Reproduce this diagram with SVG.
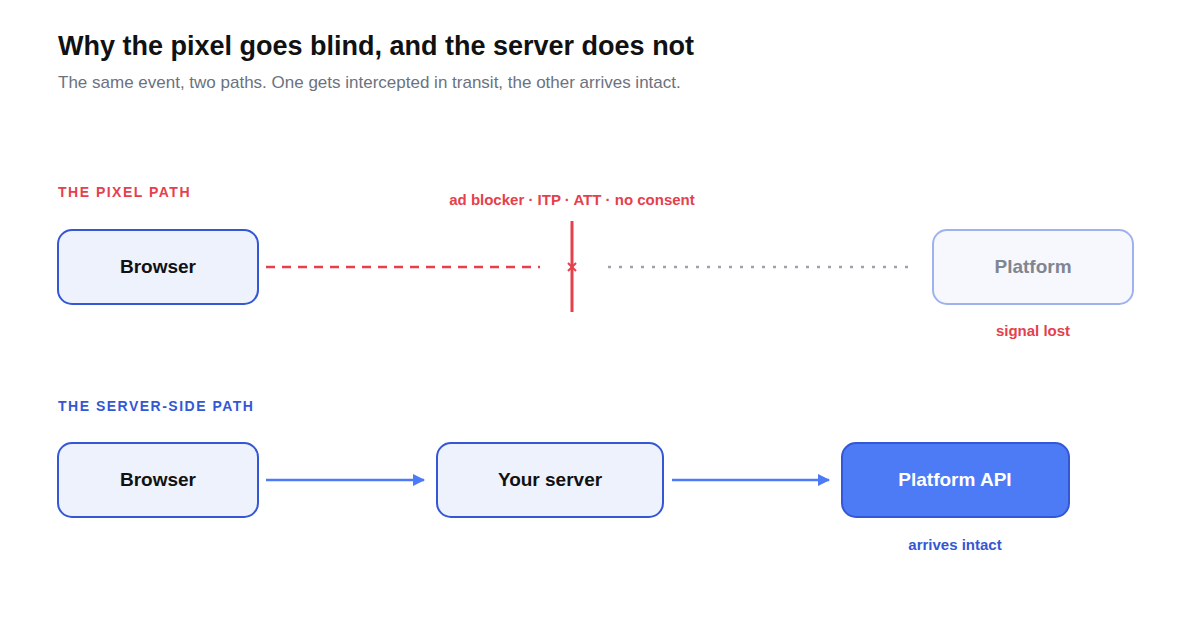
<svg xmlns="http://www.w3.org/2000/svg" width="1200" height="627" viewBox="0 0 1200 627">
<defs>
<style>
text{font-family:"Liberation Sans",Arial,sans-serif}
.node{fill:#eef2fd;stroke:#3457d5;stroke-width:2}
.lbl{font-size:19px;font-weight:bold;fill:#111;text-anchor:middle}
.sec{font-size:14px;font-weight:bold;letter-spacing:1.5px}
.note{font-size:15px;font-weight:bold;text-anchor:middle}
</style>
<marker id="arr" markerWidth="12" markerHeight="12" refX="11" refY="6" orient="auto" markerUnits="userSpaceOnUse" viewBox="0 0 12 12"><path d="M0,0 L12,6 L0,12 Z" fill="#4d7bf5"/></marker>
</defs>
<rect width="1200" height="627" fill="#fff"/>
<text x="58" y="55" font-size="27" font-weight="bold" fill="#111">Why the pixel goes blind, and the server does not</text>
<text x="58" y="88" font-size="17" fill="#6b7280">The same event, two paths. One gets intercepted in transit, the other arrives intact.</text>
<text class="sec" x="58" y="197" fill="#e5404c">THE PIXEL PATH</text>
<text class="sec" x="58" y="411" fill="#3457d5">THE SERVER-SIDE PATH</text>
<text class="note" x="572" y="205" fill="#e5404c">ad blocker · ITP · ATT · no consent</text>
<g id="connectors">
<line x1="266" y1="267" x2="540" y2="267" stroke="#e5404c" stroke-width="2.5" stroke-dasharray="9,7"/>
<line x1="608" y1="267" x2="912" y2="267" stroke="#9ca3af" stroke-width="2.5" stroke-dasharray="3,8"/>
<line x1="572" y1="221" x2="572" y2="312" stroke="#e5404c" stroke-width="3"/>
<path d="M568,263 L576,271 M576,263 L568,271" stroke="#e5404c" stroke-width="2"/>
<line x1="266" y1="480" x2="424" y2="480" stroke="#4d7bf5" stroke-width="2.5" marker-end="url(#arr)"/>
<line x1="672" y1="480" x2="829" y2="480" stroke="#4d7bf5" stroke-width="2.5" marker-end="url(#arr)"/>
</g>
<g id="pixel-browser"><rect class="node" x="58" y="230" width="200" height="74" rx="14"/><text class="lbl" x="158" y="273">Browser</text></g>
<g id="pixel-platform"><rect x="933" y="230" width="200" height="74" rx="14" fill="#f6f8fe" stroke="#9fb2ee" stroke-width="2"/><text class="lbl" x="1033" y="273" fill="#808590" style="fill:#808590">Platform</text><text class="note" x="1033" y="336" fill="#e5404c">signal lost</text></g>
<g id="server-browser"><rect class="node" x="58" y="443" width="200" height="74" rx="14"/><text class="lbl" x="158" y="486">Browser</text></g>
<g id="your-server"><rect class="node" x="437" y="443" width="226" height="74" rx="14"/><text class="lbl" x="550" y="486">Your server</text></g>
<g id="platform-api"><rect x="842" y="443" width="227" height="74" rx="14" fill="#4d7bf5" stroke="#3457d5" stroke-width="2"/><text class="lbl" x="955" y="486" style="fill:#fff">Platform API</text><text class="note" x="955" y="550" fill="#3457d5">arrives intact</text></g>
</svg>
